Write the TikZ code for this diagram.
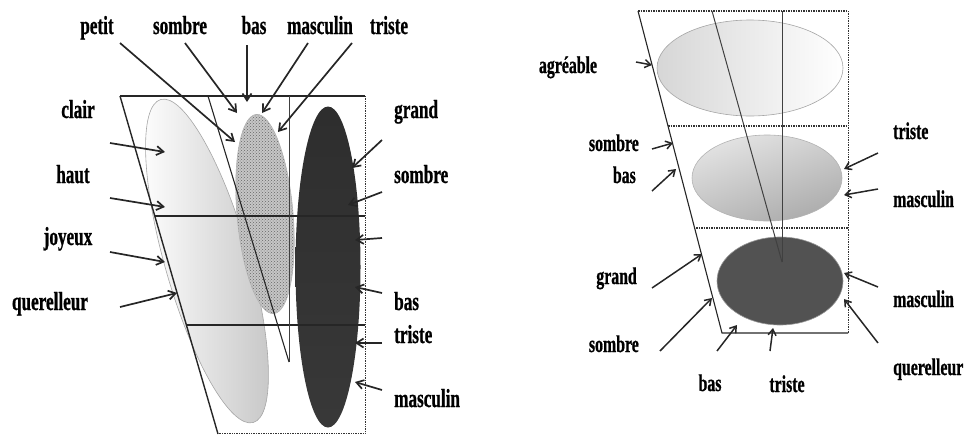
\documentclass[tikz,border=0pt]{standalone}
\usepackage{fontspec}
\newfontfamily\lblfont{Liberation Serif}[FakeStretch=0.66, FakeBold=0.8]
\usetikzlibrary{arrows.meta,shapes.geometric,patterns}

\begin{document}
\begin{tikzpicture}[x=1pt, y=-1pt,
    every node/.style={inner sep=0pt},
    lbl/.style={font=\lblfont\bfseries\fontsize{26}{28}\selectfont, anchor=base},
    lbls/.style={font=\lblfont\bfseries\fontsize{24}{26}\selectfont, anchor=base},
    arr/.style={-{Straight Barb[length=7pt,width=9pt]}, line width=1.7pt, black!85},
    arrs/.style={-{Straight Barb[length=6pt,width=8pt]}, line width=1.5pt, black!85},
    frame/.style={line width=1.4pt, black!85},
    thinline/.style={line width=0.8pt, black!75},
    dotline/.style={line width=0.7pt, densely dotted, black!80},
    hdot/.style={line width=1.5pt, densely dotted, black!80},
    blob/.style={ellipse, draw=gray!70, line width=0.6pt, inner sep=0pt}
]
\useasboundingbox (0,0) rectangle (966,434);

% ── Left panel: ellipses ──────────────────────────────────────────────────
\node[blob, minimum width=84pt, minimum height=336pt, rotate=16,
      left color=white, right color=gray!45] (light) at (207,261) {};
\node[blob, draw=gray!60, minimum width=56pt, minimum height=200pt, rotate=5,
      preaction={fill=gray!45}, pattern=crosshatch dots, pattern color=black!60] (speck) at (265,214) {};
\node[blob, draw=none, minimum width=65pt, minimum height=321pt,
      top color=black!82, middle color=black!62, bottom color=black!78] (dark) at (328,267) {};

% ── Left panel: frame ─────────────────────────────────────────────────────
\draw[frame] (120,96) -- (365,96);
\draw[frame] (120,96) -- (218,434);
\draw[dotline] (365,96) -- (365,433) -- (218,433);
\draw[frame] (155,216) -- (365,216);
\draw[frame] (187,325) -- (365,325);
\draw[thinline] (289,96) -- (289,362);
\draw[frame, line width=1.1pt] (208,96) -- (289,362);

% ── Left panel: labels ────────────────────────────────────────────────────
\node[lbl] (clair)  at (78,118)  {clair};
\node[lbl] (haut)   at (73,183)  {haut};
\node[lbl] (joyeux) at (68,245)  {joyeux};
\node[lbl] (querl)  at (50,310)  {querelleur};
\node[lbl] (petit)  at (97,34)   {petit};
\node[lbl] (sombT)  at (180,34)  {sombre};
\node[lbl] (basT)   at (254,34)  {bas};
\node[lbl] (mascT)  at (320,34)  {masculin};
\node[lbl] (tristT) at (389,34)  {triste};
\node[lbl, anchor=base west] (grandR)  at (394,118) {grand};
\node[lbl, anchor=base west] (sombR)   at (394,183) {sombre};
\node[lbl, anchor=base west] (basR)    at (394,310) {bas};
\node[lbl, anchor=base west] (tristR)  at (394,343) {triste};
\node[lbl, anchor=base west] (mascR)   at (394,407) {masculin};

% ── Left panel: arrows ────────────────────────────────────────────────────
\foreach \a/\b in {{110,143}/{165,152}, {110,198}/{165,207}, {110,252}/{165,262},
                   {120,307}/{177,293}, {120,43}/{235,142}, {185,43}/{237,113},
                   {247,45}/{247,102}, {308,43}/{262,113}, {352,43}/{278,132},
                   {382,140}/{352,168}, {382,192}/{348,205}, {382,238}/{355,240},
                   {382,293}/{355,287}, {382,343}/{355,343}, {382,390}/{355,382}}
    \draw[arr] (\a) -- (\b);

% ── Right panel: ellipses ─────────────────────────────────────────────────
\node[blob, minimum width=186pt, minimum height=96pt,
      left color=gray!32, right color=white] (top) at (750,68) {};
\node[blob, draw=gray!60, minimum width=150pt, minimum height=86pt,
      top color=gray!22, bottom color=gray!65, shading angle=20] (mid) at (767,178) {};
\node[blob, draw=gray!80, minimum width=126pt, minimum height=88pt,
      fill=black!68] (bot) at (780,281) {};

% ── Right panel: frame ────────────────────────────────────────────────────
\draw[hdot] (638,11) -- (848,11);
\draw[frame, line width=1.1pt] (638,11) -- (722,333) -- (848,333);
\draw[dotline] (848,11) -- (848,333);
\draw[hdot] (668,126) -- (848,126);
\draw[hdot] (696,228) -- (848,228);
\draw[thinline] (782,11) -- (782,262);
\draw[thinline, line width=1pt] (712,11) -- (782,262);

% ── Right panel: labels ───────────────────────────────────────────────────
\node[lbls] (agr) at (568,73) {agréable};
\node[lbls, anchor=base east] (sombL) at (639,151) {sombre};
\node[lbls, anchor=base east] (basL)  at (636,183) {bas};
\node[lbls, anchor=base east] (grandL) at (637,284) {grand};
\node[lbls, anchor=base east] (sombB) at (639,352) {sombre};
\node[lbls] (basB)   at (710,391) {bas};
\node[lbls] (tristB) at (787,392) {triste};
\node[lbls, anchor=base west] (tristRR) at (893,139) {triste};
\node[lbls, anchor=base west] (mascRa)  at (893,207) {masculin};
\node[lbls, anchor=base west] (mascRb)  at (893,307) {masculin};
\node[lbls, anchor=base west] (querR)   at (893,375) {querelleur};

% ── Right panel: arrows ───────────────────────────────────────────────────
\foreach \a/\b in {{636,62}/{652,65}, {652,149}/{673,143}, {652,191}/{676,169},
                   {652,288}/{702,254}, {660,351}/{712,298}, {717,351}/{737,325},
                   {770,351}/{773,328}, {878,153}/{844,169}, {878,189}/{844,195},
                   {878,287}/{844,273}, {878,343}/{844,299}}
    \draw[arrs] (\a) -- (\b);

\end{tikzpicture}
\end{document}
